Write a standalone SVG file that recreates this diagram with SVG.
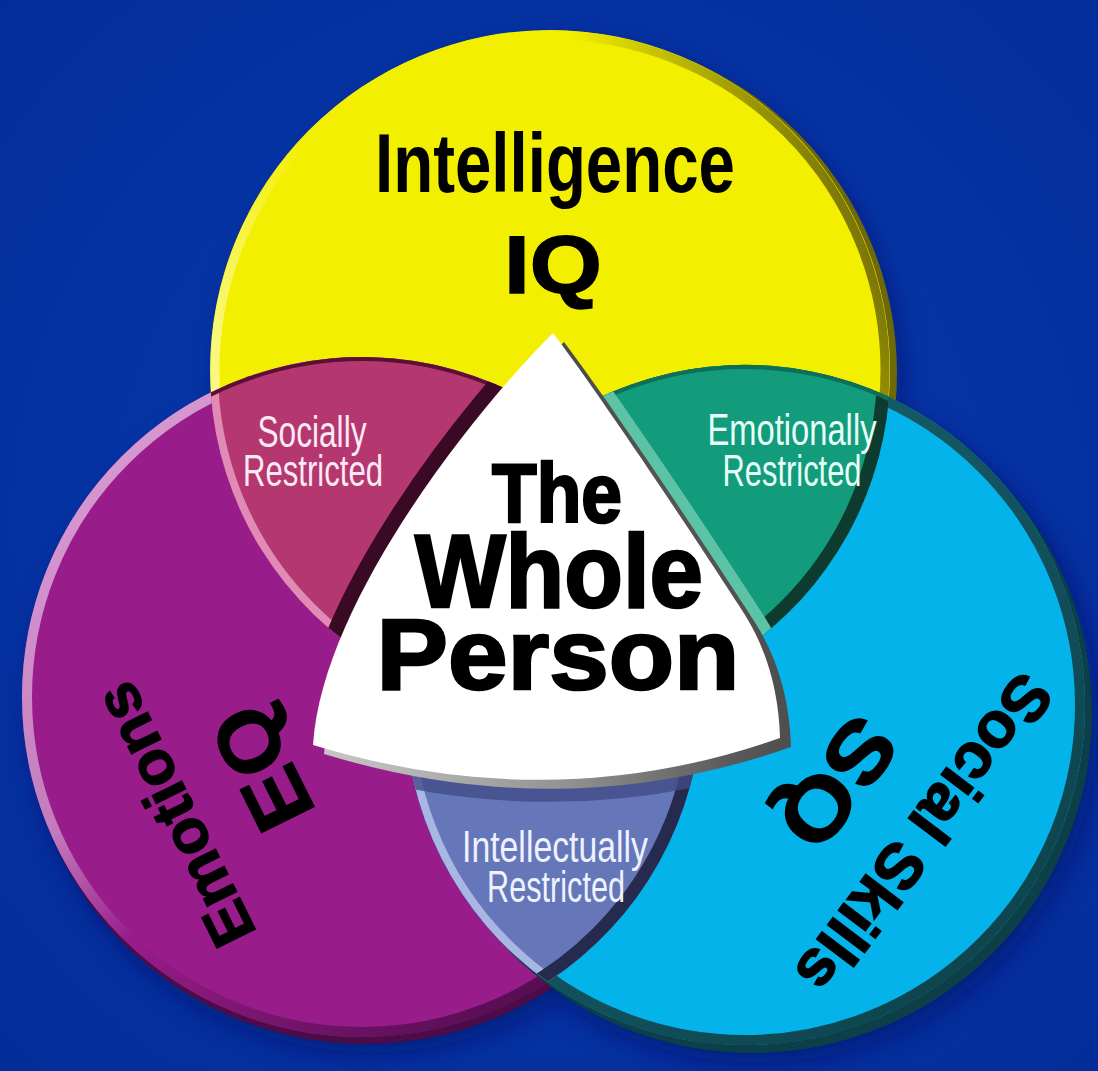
<svg xmlns="http://www.w3.org/2000/svg" width="1098" height="1071" viewBox="0 0 1098 1071">
<defs>
  <style>
    .cond{font-family:"Liberation Sans Narrow","Liberation Sans",Arial,sans-serif;font-weight:bold;fill:#000;text-anchor:middle}
    .heavy{font-family:"Liberation Sans",Arial,sans-serif;font-weight:bold;fill:#000;stroke:#000;stroke-width:1.5;text-anchor:middle}
    .center{stroke-width:2.6}
    .lens{font-family:"Liberation Sans Narrow","Liberation Sans",Arial,sans-serif;font-size:44px;text-anchor:middle}
  </style>
  <radialGradient id="bg" cx="550" cy="520" r="800" gradientUnits="userSpaceOnUse">
    <stop offset="0" stop-color="#0a3cb2"/>
    <stop offset="1" stop-color="#032c98"/>
  </radialGradient>
  <filter id="blur" x="-30%" y="-30%" width="160%" height="160%"><feGaussianBlur stdDeviation="14"/></filter>
  <linearGradient id="rimY" x1="0" y1="0.7" x2="1" y2="0.3">
    <stop offset="0" stop-color="#fcfba8"/>
    <stop offset="0.3" stop-color="#f3ef00"/>
    <stop offset="0.7" stop-color="#f3ef00"/>
    <stop offset="1" stop-color="#6d6808"/>
  </linearGradient>
  <linearGradient id="rimP" x1="0" y1="0" x2="0.8" y2="1">
    <stop offset="0" stop-color="#e0a6db"/>
    <stop offset="0.45" stop-color="#c27bbc"/>
    <stop offset="0.6" stop-color="#981d8b"/>
    <stop offset="1" stop-color="#4d0b48"/>
  </linearGradient>
  <linearGradient id="rimC" x1="0" y1="0" x2="1" y2="1">
    <stop offset="0" stop-color="#1a6a78"/>
    <stop offset="1" stop-color="#0c3f48"/>
  </linearGradient>
  <radialGradient id="bevel" cx="313" cy="760" r="480" gradientUnits="userSpaceOnUse">
    <stop offset="0" stop-color="#c8c8c8"/>
    <stop offset="0.5" stop-color="#939393"/>
    <stop offset="0.85" stop-color="#5a5a5a"/>
    <stop offset="1" stop-color="#4b4b4b"/>
  </radialGradient>
  <path id="tri" d="M553 333 C600 395 700 545 745 615 Q778 668 780 738 Q553 818 313 745 C322 600 480 405 553 333 Z"/>
  <path id="lensS" d="M210.8 392.5 A340 340 0 0 1 701.2 674.5 A340 340 0 0 1 210.8 392.5 Z"/>
  <path id="lensE" d="M406 678.1 A340 340 0 0 1 889 396.9 A340 340 0 0 1 406 678.1 Z"/>
  <path id="lensI" d="M559.4 420.2 A340 340 0 0 0 547.6 981.8 A340 340 0 0 0 559.4 420.2 Z"/>
  <clipPath id="cS"><use href="#lensS"/></clipPath>
  <clipPath id="cE"><use href="#lensE"/></clipPath>
  <clipPath id="cI"><use href="#lensI"/></clipPath>
</defs>

<rect width="1098" height="1071" fill="url(#bg)"/>

<g id="shadows" filter="url(#blur)" fill="#001060" opacity="0.6">
  <circle cx="560" cy="385" r="340"/>
  <circle cx="372" cy="712" r="340"/>
  <circle cx="757" cy="722" r="340"/>
</g>

<g id="intelligence">
  <circle cx="557" cy="373" r="340" fill="#6d6808"/>
  <circle cx="550" cy="370" r="340" fill="#f3ef00"/>
  <circle cx="550" cy="370" r="335" fill="none" stroke="url(#rimY)" stroke-width="9"/>
  <text class="cond" x="555" y="192" font-size="84" textLength="360" lengthAdjust="spacingAndGlyphs">Intelligence</text>
  <text class="heavy" x="553" y="293" font-size="82" textLength="98" lengthAdjust="spacingAndGlyphs">IQ</text>
</g>

<g id="emotions">
  <circle cx="365" cy="704" r="340" fill="#4d0b48"/>
  <circle cx="362" cy="697" r="340" fill="#981d8b"/>
  <circle cx="362" cy="697" r="335" fill="none" stroke="url(#rimP)" stroke-width="10"/>
  <g transform="translate(174,815) rotate(-116.4)">
    <text class="heavy" x="0" y="22" font-size="62" textLength="285" lengthAdjust="spacingAndGlyphs">Emotions</text>
    <text class="heavy" x="3" y="129" font-size="85" textLength="127" lengthAdjust="spacingAndGlyphs">EQ</text>
  </g>
</g>

<g id="social">
  <circle cx="752" cy="713" r="340" fill="#0c3f48"/>
  <circle cx="745" cy="705" r="340" fill="#03b3e9"/>
  <circle cx="745" cy="705" r="335" fill="none" stroke="url(#rimC)" stroke-width="10"/>
  <g transform="translate(925,834) rotate(127.1)">
    <text class="heavy" x="0" y="23" font-size="64" textLength="380" lengthAdjust="spacingAndGlyphs">Social Skills</text>
    <text class="heavy" x="12" y="130" font-size="85" textLength="140" lengthAdjust="spacingAndGlyphs">SQ</text>
  </g>
</g>

<g id="socially-restricted">
  <use href="#lensS" fill="#b4376f"/>
  <g clip-path="url(#cS)">
    <circle cx="550" cy="370" r="340" fill="none" stroke="#e08ab5" stroke-width="16"/>
    <circle cx="362" cy="697" r="340" fill="none" stroke="#5a1035" stroke-width="8"/>
    <use href="#tri" fill="none" stroke="#3a0a25" stroke-width="30"/>
  </g>
  <text class="lens" x="312" y="447" fill="#fbe9f3" textLength="109" lengthAdjust="spacingAndGlyphs">Socially</text>
  <text class="lens" x="313" y="486" font-size="42" fill="#fbe9f3" textLength="140" lengthAdjust="spacingAndGlyphs">Restricted</text>
</g>

<g id="emotionally-restricted">
  <use href="#lensE" fill="#139c7b"/>
  <g clip-path="url(#cE)">
    <circle cx="550" cy="370" r="340" fill="none" stroke="#0d3b30" stroke-width="26"/>
    <circle cx="745" cy="705" r="340" fill="none" stroke="#0e6e56" stroke-width="8"/>
    <use href="#tri" transform="translate(11,9)" fill="none" stroke="#5cc3a7" stroke-width="22"/>
  </g>
  <text class="lens" x="792" y="445" fill="#e6fff8" textLength="169" lengthAdjust="spacingAndGlyphs">Emotionally</text>
  <text class="lens" x="792" y="486" font-size="42" fill="#e6fff8" textLength="139" lengthAdjust="spacingAndGlyphs">Restricted</text>
</g>

<g id="intellectually-restricted">
  <use href="#lensI" fill="#6677b9"/>
  <g clip-path="url(#cI)">
    <circle cx="745" cy="705" r="340" fill="none" stroke="#a9b5e2" stroke-width="16"/>
    <circle cx="362" cy="697" r="340" fill="none" stroke="#262a4e" stroke-width="26"/>
    <use href="#tri" transform="translate(11,9)" fill="none" stroke="#414c88" stroke-width="26" opacity="0.8"/>
  </g>
  <text class="lens" x="555" y="862" fill="#eef2ff" textLength="186" lengthAdjust="spacingAndGlyphs">Intellectually</text>
  <text class="lens" x="556" y="902" font-size="42" fill="#eef2ff" textLength="138" lengthAdjust="spacingAndGlyphs">Restricted</text>
</g>

<g id="whole-person">
  <use href="#tri" transform="translate(11,9)" fill="url(#bevel)"/>
  <use href="#tri" fill="#ffffff"/>
  <text class="heavy center" x="557" y="522" font-size="84" textLength="130" lengthAdjust="spacingAndGlyphs">The</text>
  <text class="heavy center" x="559" y="607" font-size="103" textLength="288" lengthAdjust="spacingAndGlyphs">Whole</text>
  <text class="heavy center" x="558" y="689" font-size="100" textLength="363" lengthAdjust="spacingAndGlyphs">Person</text>
</g>

<g id="connectors"></g>
</svg>
